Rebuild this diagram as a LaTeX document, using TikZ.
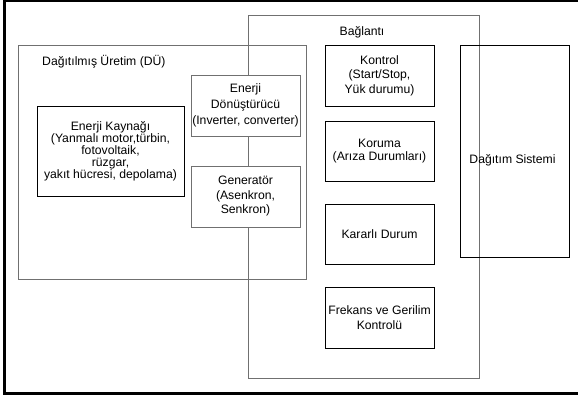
\documentclass[tikz,border=0pt]{standalone}
\usepackage{fontspec}
\setmainfont{Liberation Sans}
\definecolor{Gri}{HTML}{707070}

\begin{document}
\begin{tikzpicture}[x=1pt, y=-1pt,
  kutu/.style={draw=black, line width=0.8pt, fill=white, align=center, inner sep=0pt,
    minimum width=109pt, minimum height=61pt, font=\fontsize{12.2}{14.5}\selectfont},
  grikutu/.style={kutu, draw=Gri},
  grup/.style={draw=Gri, line width=0.8pt, inner sep=0pt},
  yazi/.style={inner sep=0pt, font=\fontsize{12.2}{14}\selectfont}]

 \useasboundingbox (0,0) rectangle (578,401);

 %%%%%%%%%% Dis cerceve %%%%%%%%%%
 \coordinate (c1) at (585,1.2);
 \coordinate (c2) at (4.5,1.2);
 \coordinate (c3) at (4.5,393.7);
 \coordinate (c4) at (585,393.7);
 \draw [line width=2.6pt] (c1) -- (c2) -- (c3) -- (c4) ;

 %%%%%%%%%% Gruplar %%%%%%%%%%
 \node [grup, minimum width=288pt, minimum height=234pt] (du) at (162,162) {};
 \node [yazi, anchor=west] (duyazi) at (42,62) {Dağıtılmış Üretim (DÜ)};

 \node [grup, minimum width=231pt, minimum height=363pt] (baglanti) at (363.5,196.5) {};
 \node [yazi] (baglantiyazi) at (362,32) {Bağlantı};

 %%%%%%%%%% DU kutulari %%%%%%%%%%
 \node [kutu, minimum width=147pt, minimum height=90pt, font=\fontsize{12.2}{12}\selectfont]
   (kaynak) at (110.5,151) {Enerji Kaynağı\\(Yanmalı motor,türbin,\\fotovoltaik,\\rüzgar,\\yakıt hücresi, depolama)};
 \node [grikutu, font=\fontsize{12.2}{16}\selectfont] (donustur) at (245.5,105.5)
   {Enerji\\Dönüştürücü\\(Inverter, converter)};
 \node [grikutu] (generator) at (245.5,196.5) {Generatör\\(Asenkron,\\Senkron)};

 %%%%%%%%%% Baglanti kutulari %%%%%%%%%%
 \node [kutu] (kontrol) at (379.5,75.5) {Kontrol\\(Start/Stop,\\Yük durumu)};
 \node [kutu, minimum height=60pt, font=\fontsize{12.2}{13}\selectfont] (koruma) at (379.5,151)
   {Koruma\\(Arıza Durumları)};
 \node [kutu, minimum height=60pt] (kararli) at (379.5,234) {Kararlı Durum};
 \node [kutu, font=\fontsize{12.2}{15}\selectfont] (frekans) at (379.5,317.5)
   {Frekans ve Gerilim\\Kontrolü};

 %%%%%%%%%% Dagitim sistemi %%%%%%%%%%
 \node [grup, draw=black, minimum width=109pt, minimum height=212pt] (dagitim) at (514.5,151) {};
 \node [yazi] (dagitimyazi) at (512.5,160) {Dağıtım Sistemi};

\end{tikzpicture}
\end{document}
